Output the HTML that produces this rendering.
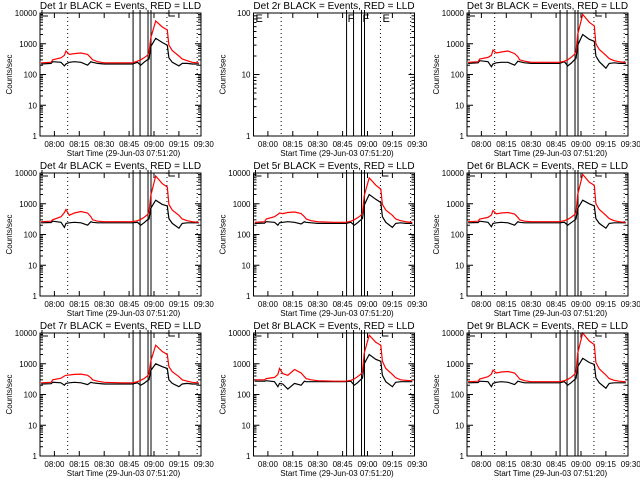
<!DOCTYPE html>
<html><head><meta charset="utf-8">
<style>
html,body{margin:0;padding:0;background:#fff;}
svg{display:block;font-family:"Liberation Sans",sans-serif;}
</style></head>
<body>
<svg id="chart" width="640" height="480" viewBox="0 0 640 480" xmlns="http://www.w3.org/2000/svg">
<rect x="0" y="0" width="640" height="480" fill="#fff"/>
</svg>
<script>
// time samples (minutes after midnight)
const times = [472,478,479,484,486,487,489,492,496,500,502,503,506,510,520,527,530,532,534,536,537,538,541,545,548,549,551,555,557,560,563,566,567];
const xTickLabels = ["08:00","08:15","08:30","08:45","09:00","09:15","09:30"];
const xTickTimes = [480,495,510,525,540,555,570];
const dottedTimes = [488,547.8,566];
const solidTimes = [527.4,531.6,536.4,538.2];
const yTickLabels = ["1","10","100","1000","10000"];
const detNames = ["1r","2r","3r","4r","5r","6r","7r","8r","9r"];

const lld1 = [240,250,300,350,420,580,450,480,500,450,350,300,260,240,240,240,270,300,350,420,500,1500,5500,3500,2800,900,600,400,320,280,250,240,240];
const evt1 = [220,230,260,250,190,220,250,260,250,200,260,250,230,220,220,220,250,200,250,300,320,800,1500,1100,900,350,250,190,230,230,220,220,220];
const lld3 = [250,260,320,360,420,620,500,540,580,480,380,300,270,250,250,250,270,300,360,450,550,2000,9000,5000,3800,1000,650,420,330,280,260,250,250];
const evt3 = [230,240,280,260,180,220,240,250,250,200,270,260,240,230,230,230,260,190,230,300,330,900,2000,1400,1200,400,260,160,230,240,230,230,230];
const lld4 = [260,270,300,380,520,650,420,500,560,500,380,300,270,260,260,260,280,310,360,440,520,1800,8000,4500,3500,950,620,420,320,280,260,250,250];
const evt4 = [240,245,270,250,170,230,240,250,240,200,260,250,240,240,240,240,250,200,240,300,320,700,1300,950,850,330,230,160,230,240,240,240,240];
const lld5 = [250,260,320,380,450,500,480,520,540,480,380,320,280,260,250,250,270,300,350,420,500,1800,7000,4000,3000,950,620,420,320,280,260,250,250];
const evt5 = [230,235,260,250,200,240,250,260,250,220,260,250,240,230,230,230,250,200,240,300,330,900,2000,1400,1100,380,250,170,230,240,230,230,230];
const lld6 = [260,270,320,360,430,600,470,500,520,460,360,300,270,260,260,260,280,310,360,440,520,2000,9000,5000,4000,1000,650,420,330,280,260,250,250];
const evt6 = [240,245,270,250,180,230,240,250,240,200,260,250,240,240,240,240,250,200,240,290,320,700,1300,1000,850,330,230,160,230,240,240,240,240];
const lld7 = [240,250,300,340,400,420,430,450,460,420,350,300,270,250,240,240,260,290,330,400,480,1200,4000,2500,2000,800,550,380,300,270,250,240,240];
const evt7 = [220,225,250,240,200,230,240,250,240,210,250,240,230,220,220,220,240,200,230,280,300,600,1000,800,700,300,230,180,220,230,220,220,220];
const lld8 = [300,300,330,360,450,700,480,420,650,500,380,330,300,280,270,270,290,320,380,460,550,2200,8500,5000,4000,1200,700,450,350,300,290,280,280];
const evt8 = [270,270,280,260,180,230,220,150,230,200,270,260,260,260,260,260,270,200,240,310,340,1000,2000,1400,1200,420,260,180,250,260,260,260,260];
const lld9 = [260,270,320,380,460,620,500,540,560,500,380,320,280,260,260,260,280,310,360,450,540,2200,10000,5500,4200,1100,680,430,330,290,270,260,260];
const evt9 = [240,245,270,260,180,230,250,260,250,210,270,260,240,240,240,240,260,200,240,300,330,800,1500,1100,950,350,240,160,230,240,240,240,240];

const lldSeries = [lld1,null,lld3,lld4,lld5,lld6,lld7,lld8,lld9];
const evtSeries = [evt1,null,evt3,evt4,evt5,evt6,evt7,evt8,evt9];

const NS = "http://www.w3.org/2000/svg";
const svg = document.getElementById("chart");
const T0 = 471.33, PXMIN = 1.66;
function mk(tag, attrs, parent){
  const e = document.createElementNS(NS, tag);
  for (const k in attrs) e.setAttribute(k, attrs[k]);
  parent.appendChild(e);
  return e;
}

for (let p = 0; p < 9; p++){
  const col = p % 3, row = Math.floor(p / 3);
  const L = 40 + col * 213.5, R = L + 161;
  const Tp = 13 + row * 160, B = Tp + 123;
  const decades = lldSeries[p] ? 4 : 2;
  const xs = t => L + (t - T0) * PXMIN;
  const ys = v => B - Math.log10(v) / decades * (B - Tp);

  const g = mk("g", {}, svg);
  
  

  const title = mk("text", {x: (L + R) / 2, y: Tp - 4, "text-anchor": "middle", "font-size": "10"}, g);
  title.textContent = "Det " + detNames[p] + " BLACK = Events, RED = LLD";
  
  

  const yl = mk("text", {x: 0, y: 0, "text-anchor": "middle", "font-size": "8",
    transform: "translate(" + (L - 28) + "," + ((Tp + B) / 2) + ") rotate(-90)"}, g);
  yl.textContent = "Counts/sec";
  
  

  const xl = mk("text", {x: (L + R) / 2 + 3, y: B + 20, "text-anchor": "middle", "font-size": "8"}, g);
  xl.textContent = "Start Time (29-Jun-03 07:51:20)";
  
  

  // y ticks
  for (let d = 0; d <= decades; d++){
    const v = Math.pow(10, d), y = ys(v);
    const lab = mk("text", {x: L - 3, y: y + 3, "text-anchor": "end", "font-size": "8"}, g);
    lab.textContent = yTickLabels[d];
    
    
    mk("line", {x1: L, x2: L + 6, y1: y, y2: y, stroke: "#000"}, g);
    mk("line", {x1: R, x2: R - 6, y1: y, y2: y, stroke: "#000"}, g);
    if (d < decades){
      for (let m = 2; m < 10; m++){
        const ym = ys(v * m);
        mk("line", {x1: L, x2: L + 3, y1: ym, y2: ym, stroke: "#000"}, g);
        mk("line", {x1: R, x2: R - 3, y1: ym, y2: ym, stroke: "#000"}, g);
      }
    }
  }
  // x ticks
  for (let i = 0; i < xTickTimes.length; i++){
    const x = xs(xTickTimes[i]);
    const lab = mk("text", {x: x, y: B + 11, "text-anchor": "middle", "font-size": "8"}, g);
    lab.textContent = xTickLabels[i];
    
    
    if (x <= R){
      mk("line", {x1: x, x2: x, y1: B, y2: B - 5, stroke: "#000"}, g);
      mk("line", {x1: x, x2: x, y1: Tp, y2: Tp + 5, stroke: "#000"}, g);
    }
  }
  // dotted lines
  dottedTimes.forEach(t => {
    const x = xs(t);
    const dl = mk("line", {x1: x, x2: x, y1: Tp, y2: B, stroke: "#000", "stroke-dasharray": "1,3"}, g);
    
    
  });
  // solid lines
  solidTimes.forEach(t => {
    const x = xs(t);
    const sl = mk("line", {x1: x, x2: x, y1: Tp - 3, y2: B, stroke: "#000"}, g);
    
    
  });
  // flags
  if (!lldSeries[p]){
    [[L + 2, "E"], [xs(solidTimes[0]) + 1, "F"], [xs(solidTimes[2]) + 1, "F"], [xs(547.8) + 2, "E"]].forEach(f => {
      const ft = mk("text", {x: f[0], y: Tp + 9, "font-size": "11"}, g);
      ft.textContent = f[1];
      
      
    });
  } else {
    [L + 2, xs(549)].forEach(x => {
      const fl = mk("path", {d: "M" + x + " " + (Tp - 3) + "V" + (Tp + 3) + "H" + (x + 6), fill: "none", stroke: "#000"}, g);
      
      
    });
    const series = [[evtSeries[p], "#000", "events-line"], [lldSeries[p], "#f00", "lld-line"]];
    series.forEach(s => {
      const pts = times.map((t, i) => xs(t).toFixed(1) + "," + ys(s[0][i]).toFixed(1)).join(" ");
      const pl = mk("polyline", {points: pts, fill: "none", stroke: s[1], "stroke-width": "1.2"}, g);
      
      
    });
  }
  const box = mk("rect", {x: L, y: Tp, width: R - L, height: B - Tp, fill: "none", stroke: "#000"}, g);
  
  
}
</script>
</body></html>
